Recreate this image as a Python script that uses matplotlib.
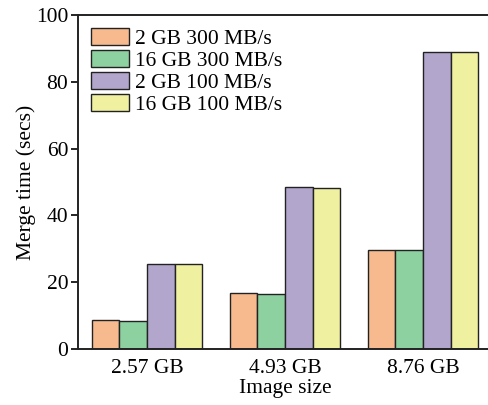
import matplotlib
matplotlib.use("Agg")
import matplotlib.pyplot as plt
import numpy as np

categories = ["2.57 GB", "4.93 GB", "8.76 GB"]
series_labels = ["2 GB 300 MB/s", "16 GB 300 MB/s", "2 GB 100 MB/s", "16 GB 100 MB/s"]
gb2_300 = [8.7, 16.7, 29.7]
gb16_300 = [8.5, 16.5, 29.5]
gb2_100 = [25.5, 48.4, 89.0]
gb16_100 = [25.3, 48.3, 88.9]
colors = ["#F7BA8E", "#8ED1A0", "#B3A6CD", "#EFF0A0"]

plt.rcParams["font.family"] = ["Liberation Serif", "DejaVu Serif"]
plt.rcParams["font.size"] = 15.5

fig = plt.figure(figsize=(4.89, 4.05), dpi=100)
ax = fig.add_axes([78 / 489, 1 - 349 / 405, (492 - 78) / 489, (349 - 15) / 405])

x = np.arange(len(categories))
width = 0.2
for i, (vals, lab, col) in enumerate(zip([gb2_300, gb16_300, gb2_100, gb16_100], series_labels, colors)):
    ax.bar(x + (i - 1.5) * width, vals, width, color=col, edgecolor="#222222",
           linewidth=1.0, label=lab)

ax.set_xlim(-0.5, 2.5)
ax.set_ylim(0, 100)
ax.set_yticks([0, 20, 40, 60, 80, 100])
ax.set_xticks(x)
ax.set_xticklabels(categories)
ax.tick_params(axis="x", length=0, pad=7)
ax.tick_params(axis="y", length=5, width=1.2, direction="out", pad=2)
ax.spines["right"].set_visible(False)
for s in ax.spines.values():
    s.set_linewidth(1.4)
    s.set_color("#222222")
ax.set_xlabel("Image size", labelpad=1)
ax.set_ylabel("Merge time (secs)", labelpad=0)

ax.legend(loc="upper left", frameon=False, handlelength=1.75, handleheight=0.85,
          handletextpad=0.3, labelspacing=0.05, borderaxespad=0.3,
          borderpad=0.3)

fig.savefig("out.png", dpi=100)
